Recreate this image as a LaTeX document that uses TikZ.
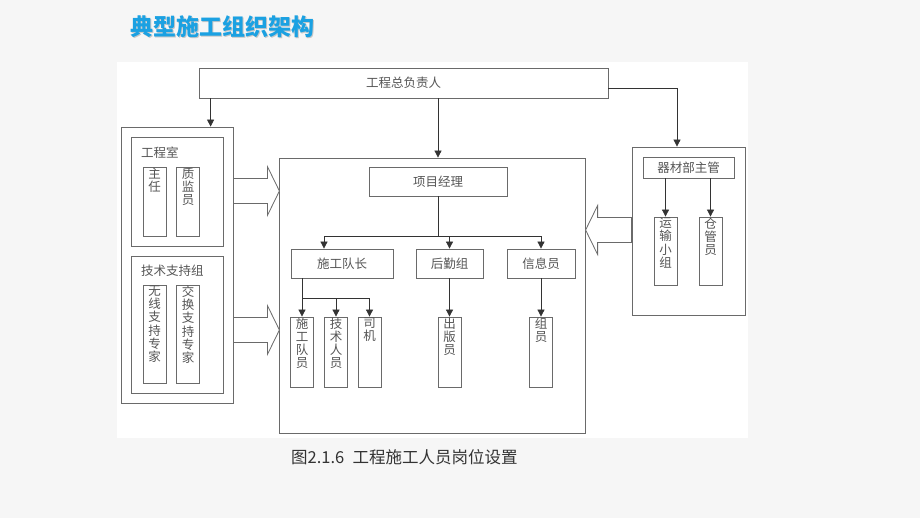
\documentclass[tikz,border=0pt]{standalone}
\usepackage{fontspec}
\setmainfont{Noto Sans CJK SC}
\usetikzlibrary{arrows.meta, calc, positioning}
\definecolor{ttlblue}{HTML}{1BA1E2}
\definecolor{pagegray}{HTML}{F6F6F6}
\definecolor{linegray}{HTML}{6A6A6A}
\definecolor{txtgray}{HTML}{555555}
\definecolor{arrgray}{HTML}{333333}

\begin{document}
\begin{tikzpicture}[x=1pt,y=-1pt,
  box/.style={draw=linegray, line width=0.8pt, rectangle, inner sep=0pt,
    font=\fontsize{12.5}{13.2}\selectfont, text=txtgray},
  vbox/.style={box, minimum width=23pt, minimum height=#1},
  vtext/.style={anchor=north, inner sep=1pt, align=center,
    font=\fontsize{12.5}{13.2}\selectfont, text=txtgray},
  line/.style={draw=arrgray, line width=0.8pt},
  arr/.style={line, -{Triangle[length=7pt,width=7pt]}},
  pics/fatarrow/.style={code={
    \draw[draw=linegray, line width=0.8pt, fill=white] (0,-12.5) -- (34,-12.5) -- (34,-24.5)
      -- (46,0) -- (34,24.5) -- (34,12.5) -- (0,12.5) -- cycle;}}
]
\fill[pagegray] (0,0) rectangle (920,518);
\fill[white] (117,62) rectangle (748,438);
\useasboundingbox (0,0) rectangle (920,518);

% title
\node[anchor=west, inner sep=0pt, font=\fontsize{23}{23}\selectfont\bfseries, text=black!22] (ttlshadow) at (131,28) {典型施工组织架构};
\node[anchor=west, inner sep=0pt, font=\fontsize{23}{23}\selectfont\bfseries, text=ttlblue] (ttl) at (130,27) {典型施工组织架构};

% top
\node[box, minimum width=409pt, minimum height=30pt] (boss) at (403.5,83) {工程总负责人};

% left block
\node[box, minimum width=112pt, minimum height=276pt] (lbox) at (177,265) {};
\node[box, minimum width=92pt, minimum height=109pt] (gcs) at (177,191.5) {};
\node[box, draw=none, anchor=west] (gcslbl) at ($(gcs.north west)+(10,16)$) {工程室};
\node[vbox=69pt] (zr) at (154.5,201.5) {};
\node[vtext] (zrlbl) at (zr.north) {主\\任};
\node[vbox=69pt] (zj) at (188,201.5) {};
\node[vtext] (zjlbl) at (zj.north) {质\\监\\员};

\node[box, minimum width=92pt, minimum height=137pt] (jszc) at (177,324.5) {};
\node[box, draw=none, anchor=west] (jszclbl) at ($(jszc.north west)+(10,15)$) {技术支持组};
\node[vbox=98pt] (wx) at (154.5,334) {};
\node[vtext] (wxlbl) at (wx.north) {无\\线\\支\\持\\专\\家};
\node[vbox=98pt] (jh) at (188,334) {};
\node[vtext] (jhlbl) at (jh.north) {交\\换\\支\\持\\专\\家};

% center block
\node[box, minimum width=306pt, minimum height=275pt] (cbox) at (432,295.5) {};
\node[box, minimum width=138pt, minimum height=29pt] (pm) at (438,181.5) {项目经理};
\node[box, minimum width=102pt, minimum height=29pt] (dz) at (342,263.5) {施工队长};
\node[box, minimum width=67pt, minimum height=29pt] (hq) at (449.5,263.5) {后勤组};
\node[box, minimum width=68pt, minimum height=29pt] (xx) at (541,263.5) {信息员};

\node[vbox=70pt] (dy) at (302,352) {};
\node[vtext] (dylbl) at (dy.north) {施\\工\\队\\员};
\node[vbox=70pt] (js) at (336,352) {};
\node[vtext] (jslbl) at (js.north) {技\\术\\人\\员};
\node[vbox=70pt] (sj) at (369.5,352) {};
\node[vtext] (sjlbl) at (sj.north) {司\\机};
\node[vbox=70pt] (cb) at (449.5,352) {};
\node[vtext] (cblbl) at (cb.north) {出\\版\\员};
\node[vbox=70pt] (zy) at (541,352) {};
\node[vtext] (zylbl) at (zy.north) {组\\员};

% right block
\node[box, minimum width=113pt, minimum height=168pt] (rbox) at (688.5,231) {};
\node[box, minimum width=91pt, minimum height=21pt] (qc) at (688.5,167.5) {器材部主管};
\node[vbox=68pt] (ys) at (665.5,251) {};
\node[vtext] (yslbl) at (ys.north) {运\\输\\小\\组};
\node[vbox=68pt] (cg) at (710.5,251) {};
\node[vtext] (cglbl) at (cg.north) {仓\\管\\员};

% wide arrows
\pic at (lbox.east |- 0,191) {fatarrow};
\pic at (lbox.east |- 0,330) {fatarrow};
\pic[xscale=-1] at (rbox.west |- 0,230) {fatarrow};

% connectors
\draw[arr] ([xshift=12pt]boss.south west) -- ([xshift=12pt]boss.south west |- lbox.north);
\draw[arr] (boss.south -| pm.north) -- (cbox.north -| pm.north);
\draw[arr] ([yshift=-5pt]boss.east) -| ([xshift=-11.5pt]rbox.north);

\coordinate (pmsplit) at ($(pm.south)+(0,40)$);
\draw[line] (pm.south) -- (pmsplit);
\draw[arr] (pmsplit) -| ([xshift=-18pt]dz.north);
\draw[arr] (pmsplit) -| (hq.north);
\draw[arr] (pmsplit) -| (xx.north);

\coordinate (dzsplit) at ($(dz.south -| dy.north)+(0,20)$);
\draw[line] (dz.south -| dy.north) -- (dzsplit);
\draw[arr] (dzsplit) -- (dy.north);
\draw[arr] (dzsplit) -| (js.north);
\draw[arr] (dzsplit) -| (sj.north);
\draw[arr] (hq) -- (cb);
\draw[arr] (xx) -- (zy);

\draw[arr] (qc.south -| ys.north) -- (ys.north);
\draw[arr] (qc.south -| cg.north) -- (cg.north);

% caption
\node[anchor=west, inner sep=0pt, font=\fontsize{16.5}{16.5}\selectfont, text=black!80] (cap) at (291,457) {图2.1.6\hspace{0.5em}工程施工人员岗位设置};
\end{tikzpicture}
\end{document}
